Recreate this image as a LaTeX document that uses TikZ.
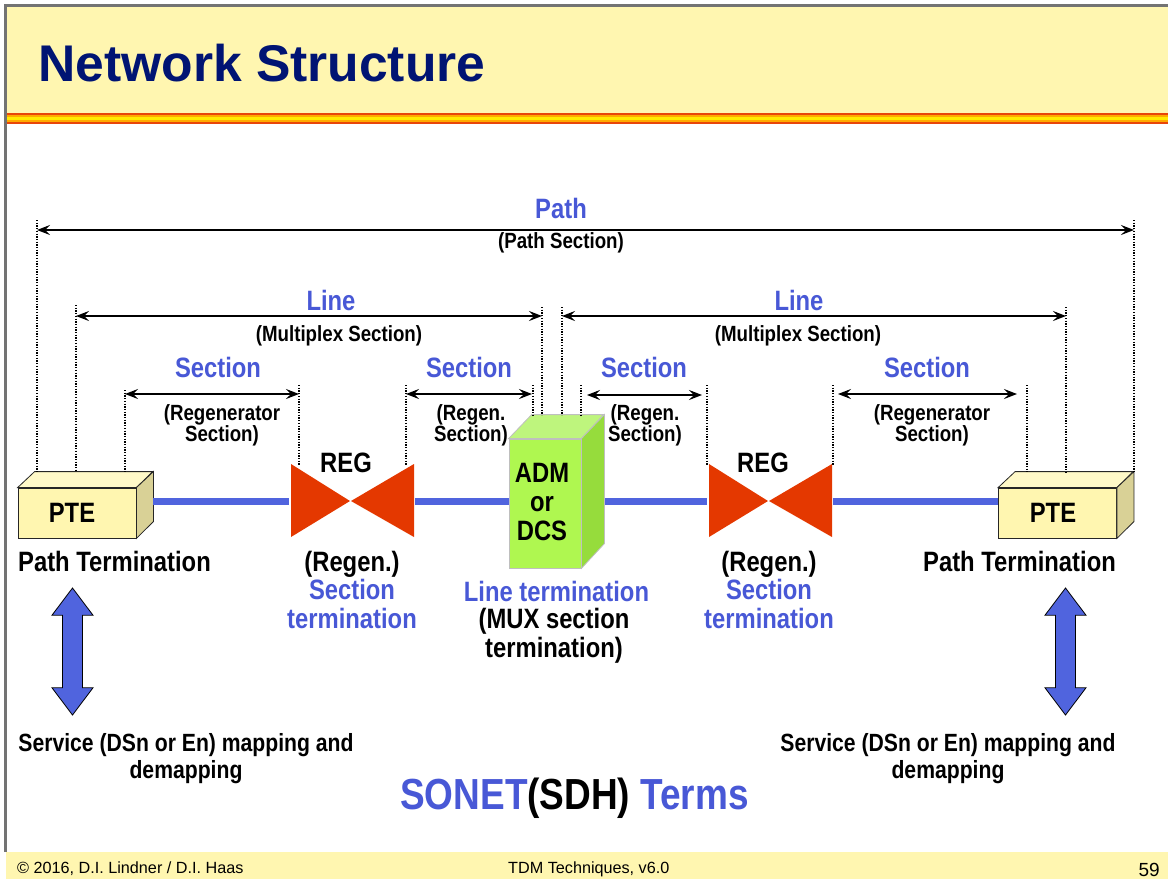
\documentclass[tikz,border=0pt]{standalone}
\usepackage{fontspec}
\setmainfont{Liberation Sans}
\newfontfamily\narrowsans[FakeStretch=0.85]{Liberation Sans}
\usepackage{tikz}
\usetikzlibrary{arrows.meta,positioning,shapes.arrows}
\definecolor{bandyellow}{RGB}{255,246,176}
\definecolor{titlenavy}{RGB}{0,20,115}
\definecolor{termblue}{RGB}{72,88,214}
\definecolor{linkblue}{RGB}{80,100,222}
\definecolor{regred}{RGB}{228,56,0}
\definecolor{stripered}{RGB}{232,70,10}
\definecolor{stripeorange}{RGB}{255,170,0}
\definecolor{stripeyellow}{RGB}{255,235,0}
\definecolor{admgreen}{RGB}{175,247,80}
\definecolor{admtop}{RGB}{190,245,125}
\definecolor{admside}{RGB}{150,220,60}
\tikzset{
    %Define standard arrow tip
    >={Stealth[length=13pt,width=10pt,inset=5pt]},
    %Define style for text
    term/.style={
           font=\narrowsans\bfseries\fontsize{28}{29}\selectfont,
           text=termblue,
           align=center,
           inner sep=0pt},
    blackterm/.style={
           term,
           text=black},
    smallterm/.style={
           font=\narrowsans\bfseries\fontsize{22}{21}\selectfont,
           text=black,
           align=center,
           inner sep=0pt},
    serviceterm/.style={
           smallterm,
           font=\narrowsans\bfseries\fontsize{24.9}{26.5}\selectfont},
    footer/.style={
           inner sep=0pt,
           font=\fontsize{16.2}{16.2}\selectfont},
    %Define style for boxes
    ptebox/.style={
           rectangle,
           draw=black!85, thick,
           minimum width=118pt,
           minimum height=50pt,
           inner sep=0pt,
           fill=bandyellow},
    admbox/.style={
           rectangle,
           draw=black!25, thick,
           minimum width=72pt,
           minimum height=129pt,
           inner sep=0pt,
           fill=admgreen},
    % Define arrow style
    span/.style={<->, line width=1.2pt},
    drop/.style={dash pattern=on 1.3pt off 1.4pt, black, line width=1.2pt},
    link/.style={linkblue, line width=7pt},
    updown/.style={
           double arrow,
           draw=black, thick,
           fill=linkblue,
           rotate=90,
           inner sep=9.5pt,
           minimum width=41pt,
           minimum height=127pt,
           double arrow tip angle=74,
           double arrow head extend=10.5pt}
}

\begin{document}
\begin{tikzpicture}[x=1pt,y=-1pt]
\useasboundingbox (0,0) rectangle (1168,879);
 %slide
\fill[bandyellow] (6,6) rectangle (1168,114);
\fill[stripered] (6,113) rectangle (1168,123.5);
\fill[stripeorange] (6,115) rectangle (1168,121.5);
\fill[stripeyellow] (6,116.5) rectangle (1168,120);
\fill[bandyellow] (6,852) rectangle (1168,879);
\draw[black!55, line width=3pt] (5,852) -- (5,5) -- (1168,5);
\node[anchor=west, inner sep=0pt, text=titlenavy, font=\bfseries\fontsize{51.6}{52}\selectfont] (title) at (38,63) {Network Structure};
\node[footer, anchor=west] (copy) at (17,869) {© 2016, D.I. Lindner / D.I. Haas};
\node[footer, anchor=west] (course) at (508,869) {TDM Techniques, v6.0};
\node[footer, anchor=east, font=\fontsize{19}{19}\selectfont] (page) at (1160,870) {59};
 %nodes
\node[ptebox](pte1) at (77,513){};
\node[ptebox](pte2) at (1057.5,513){};
\node[admbox](adm) at (545,503.5){};
\foreach \n in {pte1,pte2}{
  \filldraw[draw=black!85, thick, fill=bandyellow!70!white] (\n.north west) -- ++(17,-16) -- ++(118,0) -- (\n.north east) -- cycle;
  \filldraw[draw=black!85, thick, fill=bandyellow!85!black] (\n.north east) -- ++(17,-16) -- ++(0,50) -- (\n.south east) -- cycle;
}
\filldraw[draw=black!25, thick, fill=admtop] (adm.north west) -- ++(23,-24) -- ++(72,0) -- (adm.north east) -- cycle;
\filldraw[draw=black!25, thick, fill=admside] (adm.north east) -- ++(23,-24) -- ++(0,129) -- (adm.south east) -- cycle;
\node[blackterm](ptetext1) at (72,513){PTE};
\node[blackterm](ptetext2) at (1053,513){PTE};
\node[blackterm](admtext) at (542,502){ADM\\or\\DCS};
 %regenerators
\coordinate (reg1) at (350,501);
\coordinate (reg2) at (768,501);
\foreach \n in {reg1,reg2}{
  \fill[regred] (\n) -- ++(-59,-37) -- ++(0,73) -- cycle;
  \fill[regred] (\n) ++(1,0) -- ++(63,-37) -- ++(0,73) -- cycle;
}
\node[blackterm](regtext1) at (346,463){REG};
\node[blackterm](regtext2) at (763,463){REG};
 %links
\coordinate (la) at (289,501);
\coordinate (lb) at (415,501);
\coordinate (lc) at (707,501);
\coordinate (ld) at (833,501);
\path (pte1.east) ++(17,-12) coordinate (l0);
\draw[link] (l0) -- (la);
\draw[link] (lb) -- (adm.west |- lb);
\path (adm.east |- lb) ++(24,0) coordinate (le);
\draw[link] (le) -- (lc);
\draw[link] (ld) -- (pte2.west |- ld);
 %drop lines
\foreach \x/\a/\b in {37/220/472,76/305/472,125/390/472,299/385/465,406/385/465,533/385/415,
                      542/307/415,562/307/415,581/385/415,707/385/465,833/385/465,
                      1027/385/472,1066/307/472,1134/220/472}{
  \coordinate (top\x) at (\x,\a);
  \coordinate (bot\x) at (\x,\b);
  \draw[drop] (top\x) -- (bot\x);
}
 %spans
\coordinate (pa) at (37,230);
\coordinate (pb) at (1134,230);
\coordinate (lna) at (76,316);
\coordinate (lnb) at (542,316);
\coordinate (lnc) at (562,316);
\coordinate (lnd) at (1066,316);
\coordinate (sa) at (125,394);
\coordinate (sb) at (299,394);
\coordinate (sc) at (406,394);
\coordinate (sd) at (532,394);
\coordinate (se) at (587,395);
\coordinate (sf) at (702,395);
\coordinate (sg) at (838,394);
\coordinate (sh) at (1017,394);
\draw[span] (pa) -- (pb);
\draw[span] (lna) -- (lnb);
\draw[span] (lnc) -- (lnd);
\draw[span] (sa) -- (sb);
\draw[span] (sc) -- (sd);
\draw[span] (se) -- (sf);
\draw[span] (sg) -- (sh);
 %labels
\node[term](path) at (561,208){Path};
\node[smallterm](pathsub) at (561,242.5){(Path Section)};
\node[term](line1) at (331,300){Line};
\node[smallterm](linesub1) at (339,335.5){(Multiplex Section)};
\node[term](line2) at (799,300){Line};
\node[smallterm](linesub2) at (798,335.5){(Multiplex Section)};
\node[term](sec1) at (218,367){Section};
\node[term](sec2) at (469,367){Section};
\node[term](sec3) at (644,367){Section};
\node[term](sec4) at (927,367){Section};
\node[smallterm](secsub1) at (222,425){(Regenerator\\Section)};
\node[smallterm](secsub2) at (471,425){(Regen.\\Section)};
\node[smallterm](secsub3) at (645,425){(Regen.\\Section)};
\node[smallterm](secsub4) at (932,425){(Regenerator\\Section)};
\node[blackterm](ptname1) at (114.5,561){Path Termination};
\node[blackterm](ptname2) at (1019.5,561){Path Termination};
\node[blackterm](regen1) at (352,564){(Regen.)};
\node[blackterm](regen2) at (769,564){(Regen.)};
\node[term, below=0pt of regen1, yshift=-2pt](secterm1){Section\\termination};
\node[term, below=0pt of regen2, yshift=-2pt](secterm2){Section\\termination};
\node[term](lineterm) at (556.5,591){Line termination};
\node[blackterm](muxterm) at (554,636){(MUX section\\termination)};
 %mapping
\node[updown](map1) at (72.5,651.5){};
\node[updown](map2) at (1065.5,651.5){};
\node[serviceterm](service1) at (186,758.5){Service (DSn or En) mapping and\\demapping};
\node[serviceterm](service2) at (948,758.5){Service (DSn or En) mapping and\\demapping};
\node[term, font=\narrowsans\bfseries\fontsize{43.5}{44}\selectfont](terms) at (574.5,798){SONET\textcolor{black}{(SDH)} Terms};
\end{tikzpicture}
\end{document}
